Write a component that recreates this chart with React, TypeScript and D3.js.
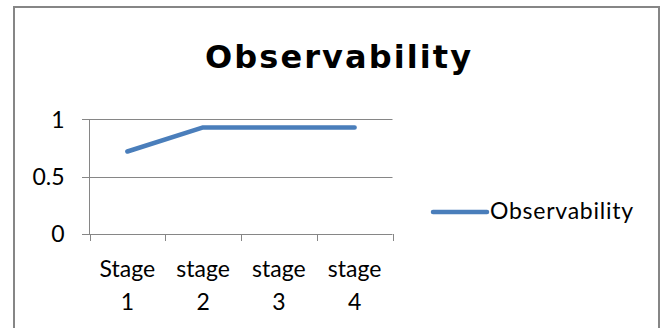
import React from "react";
import * as d3 from "d3";

const categories = ["Stage 1", "stage 2", "stage 3", "stage 4"];
const labelLines = [["Stage", "1"], ["stage", "2"], ["stage", "3"], ["stage", "4"]];
const values = [0.72, 0.93, 0.93, 0.93];
const yTicks = [0, 0.5, 1];
const seriesName = "Observability";
const title = "Observability";

const W = 661, H = 328;
const FONT = "Lato, 'Open Sans', sans-serif";
const TITLE_FONT = "'DejaVu Sans', Lato, sans-serif";

export default function App() {
  const x = d3.scaleBand<string>().domain(categories).range([89.5, 392.5]).padding(0);
  const y = d3.scaleLinear().domain([0, 1]).range([234, 119.4]);
  const line = d3
    .line<number>()
    .x((_, i) => (x(categories[i]) as number) + x.bandwidth() / 2)
    .y((d) => y(d));
  const grid = "#868686";
  const blue = "#4A7EBB";
  const boundaries = categories.map((c) => x(c) as number).concat([x.range()[1]]);
  return (
    <svg width={W} height={H} style={{ position: "absolute", left: 0, top: 0, display: "block" }}>
      <rect x={0} y={0} width={W} height={H} fill="#fff" />
      <rect x={14} y={7} width={645} height={340} fill="#fff" stroke={grid} strokeWidth={2} />
      <text x={205} y={68} fontFamily={TITLE_FONT} fontWeight="bold" fontSize={32} fill="#000" textLength={266} lengthAdjust="spacing">
        {title}
      </text>
      {yTicks.map((t) => (
        <g key={t}>
          <line x1={82} x2={392.5} y1={Math.round(y(t)) + 0.5} y2={Math.round(y(t)) + 0.5} stroke={grid} strokeWidth={1} />
          <text x={64.5} y={y(t) + 8.3} textAnchor="end" fontFamily={FONT} fontSize={23} fill="#000">
            {t}
          </text>
        </g>
      ))}
      <line x1={89.5} x2={89.5} y1={y(1)} y2={y(0)} stroke={grid} strokeWidth={1} />
      {boundaries.map((b, i) => (
        <line key={i} x1={Math.round(b) + 0.5} x2={Math.round(b) + 0.5} y1={y(0)} y2={y(0) + 7} stroke={grid} strokeWidth={1} />
      ))}
      {categories.map((c, i) => (
        <text key={c} x={(x(c) as number) + x.bandwidth() / 2} textAnchor="middle" fontFamily={FONT} fontSize={23} fill="#000">
          <tspan x={(x(c) as number) + x.bandwidth() / 2} y={276.5}>{labelLines[i][0]}</tspan>
          <tspan x={(x(c) as number) + x.bandwidth() / 2} y={310}>{labelLines[i][1]}</tspan>
        </text>
      ))}
      <path d={line(values) || ""} fill="none" stroke={blue} strokeWidth={4.5} strokeLinecap="round" strokeLinejoin="round" />
      <line x1={433} x2={487} y1={212} y2={212} stroke={blue} strokeWidth={4.5} strokeLinecap="round" />
      <text x={490} y={219.3} fontFamily={FONT} fontSize={23} fill="#000" textLength={143} lengthAdjust="spacing">
        {seriesName}
      </text>
    </svg>
  );
}
